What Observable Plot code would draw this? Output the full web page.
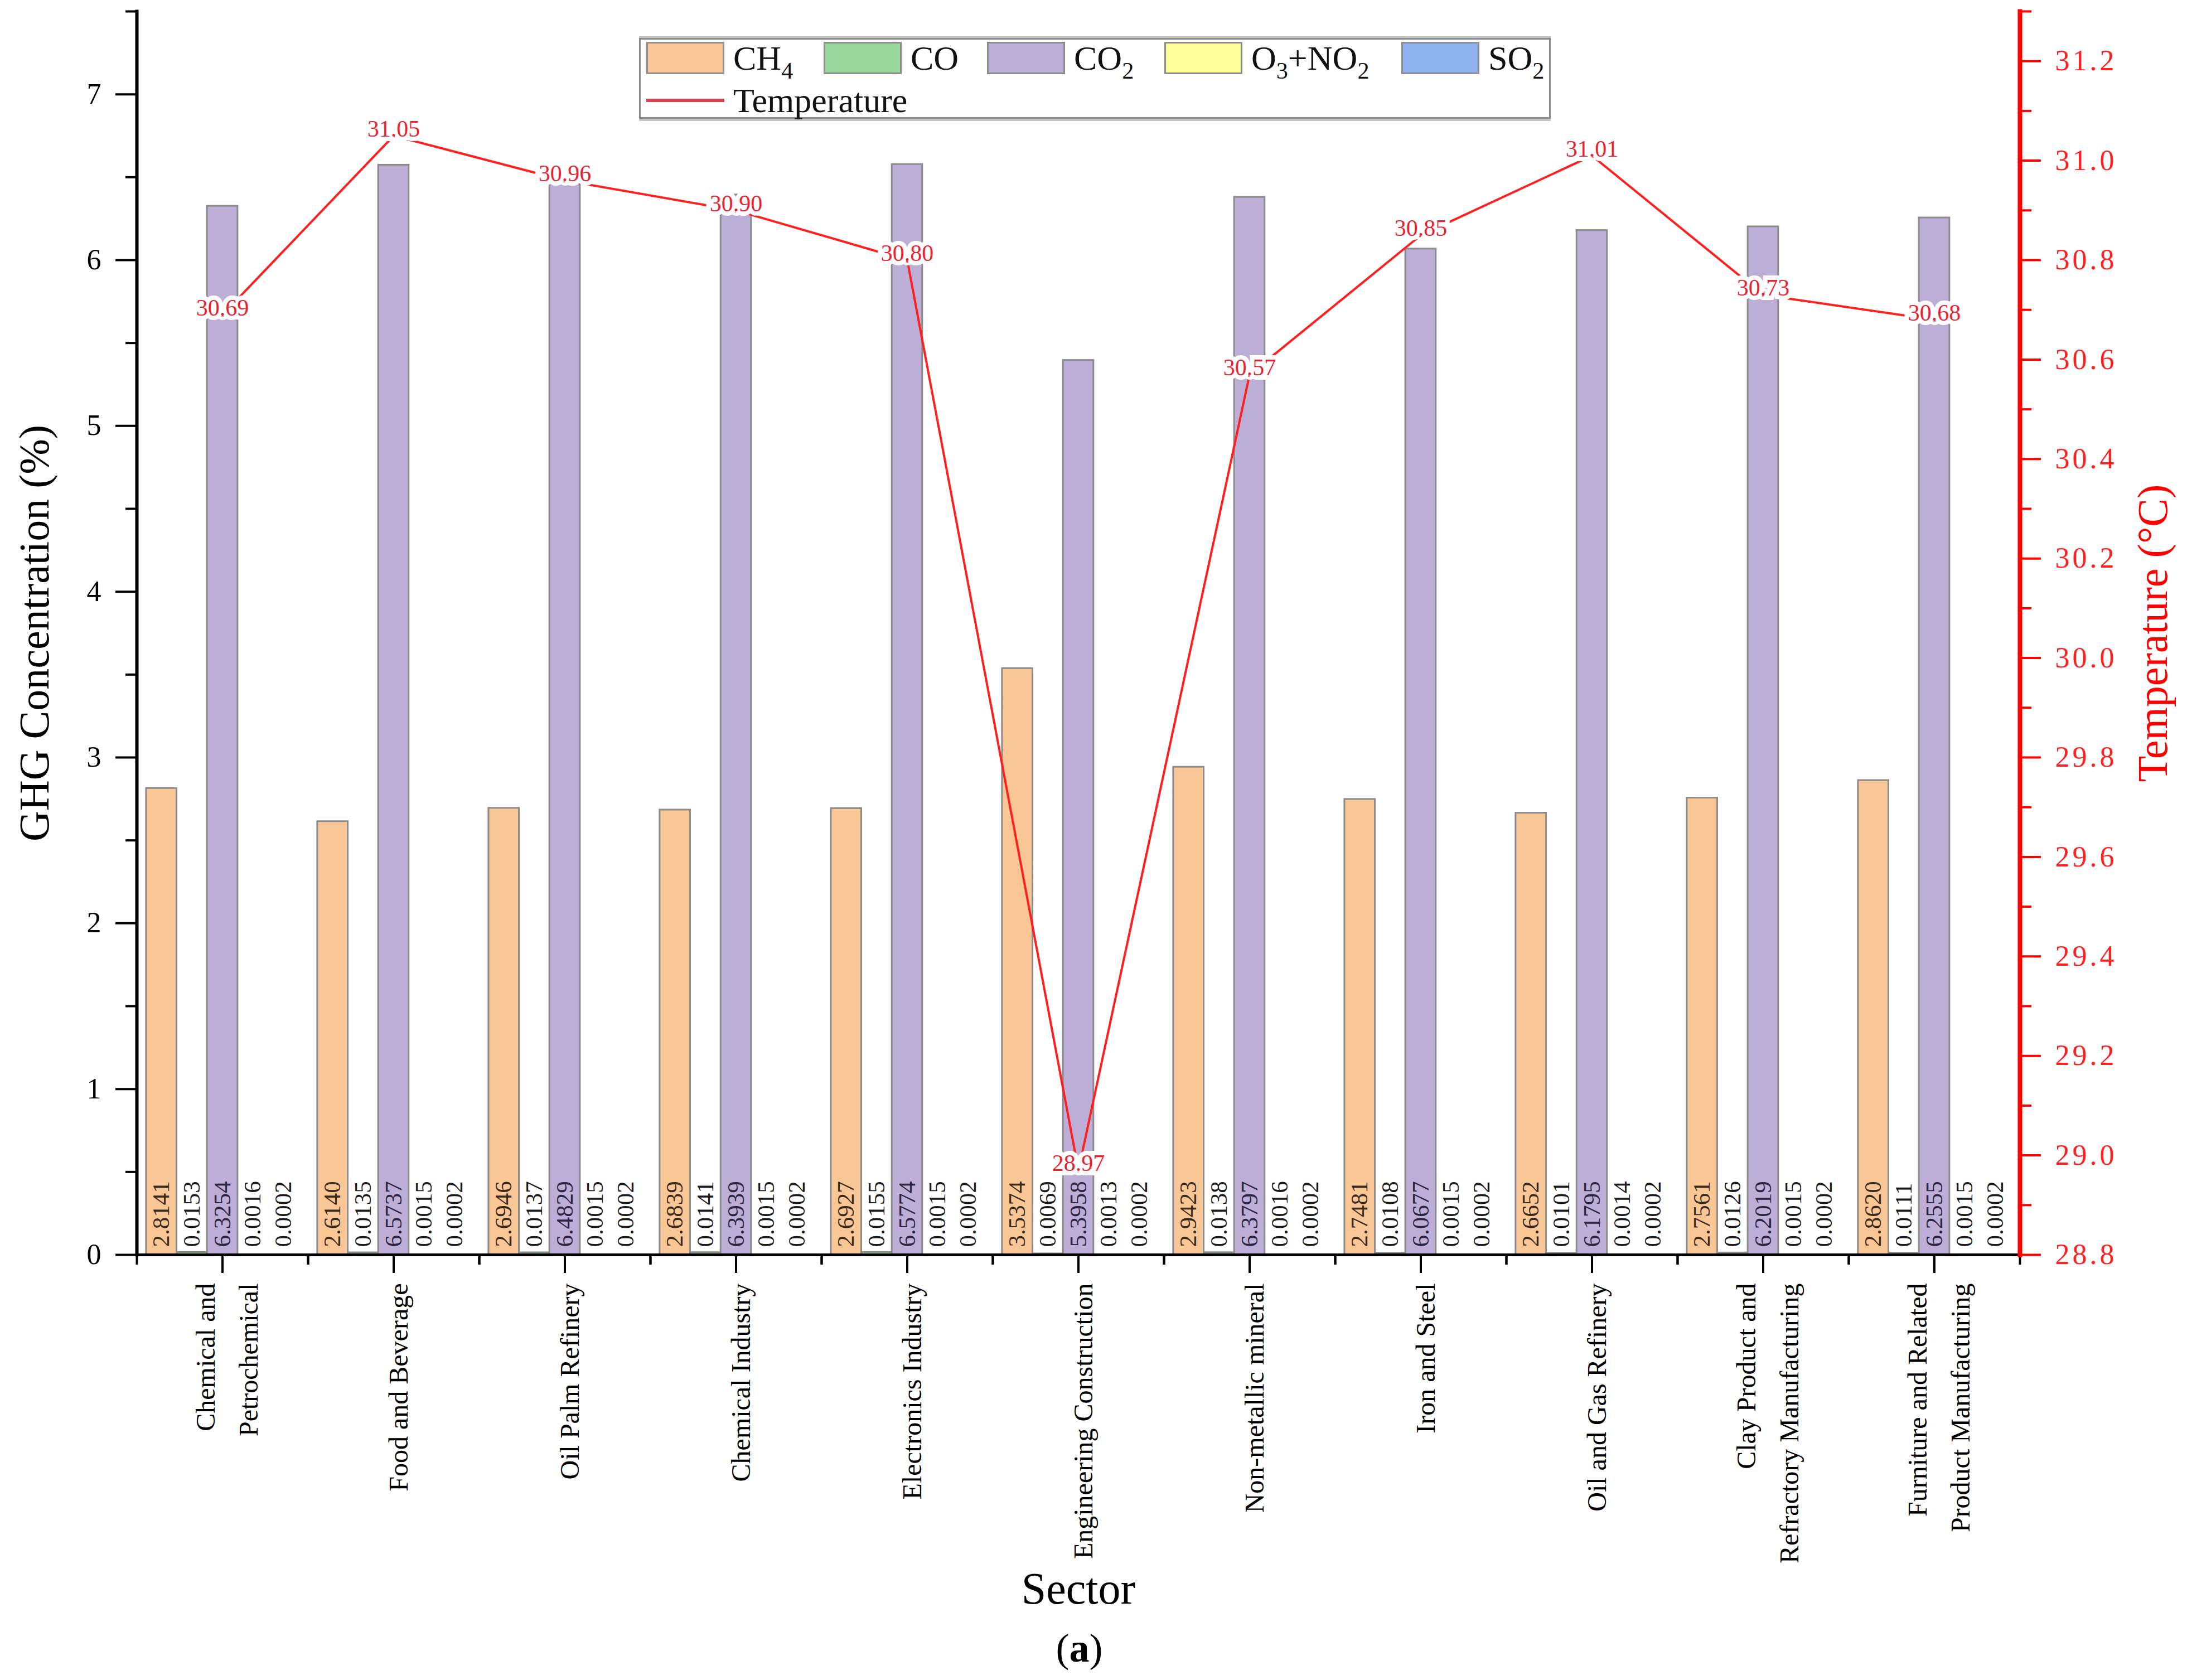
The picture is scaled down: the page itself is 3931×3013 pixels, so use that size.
<!DOCTYPE html>
<html>
<head>
<meta charset="utf-8">
<script src="https://cdn.jsdelivr.net/npm/d3@7"></script>
<script src="https://cdn.jsdelivr.net/npm/@observablehq/plot@0.6"></script>
<style>
  body { margin: 0; background: #fff; }
  #wrap { position: relative; width: 3931px; font-family: "Liberation Serif", "Times New Roman", serif; background: #fff; }
  #legend { position: absolute; left: 1146px; top: 68px; width: 1629px; height: 139px;
            border: 3px solid #8a8a8a; box-shadow: 0 4px 0 #c4c4c4, 0 -3px 0 #c4c4c4; background: #fff; }
  .item { position: absolute; display: flex; align-items: center; font-size: 62px; line-height: 1; color: #111; }
  .sw { width: 134px; height: 52px; border: 3px solid #8c8c8c; margin-right: 16px; }
  .ln { width: 140px; height: 6px; background: #d8434d; margin-right: 16px; }
  sub { font-size: 0.68em; vertical-align: -0.38em; line-height: 0; }
  #caption { width: 3931px; height: 113px; line-height: 113px; text-align: center; font-size: 72px;
             font-family: "Liberation Serif", serif; box-sizing: border-box; padding-right: 60px; }
  g[fill="#ff2020"] text { letter-spacing: 5px; }
</style>
</head>
<body>
<div id="wrap">
  <div id="chart"></div>
  <div id="legend"></div>
  <div id="caption">(<b>a</b>)</div>
</div>
<script>
// ---------- data ----------
const sectors = [
  "Chemical and\nPetrochemical",
  "Food and Beverage",
  "Oil Palm Refinery",
  "Chemical Industry",
  "Electronics Industry",
  "Engineering Construction",
  "Non-metallic mineral",
  "Iron and Steel",
  "Oil and Gas Refinery",
  "Clay Product and\nRefractory Manufacturing",
  "Furniture and Related\nProduct Manufacturing"
];
const gases = ["CH4", "CO", "CO2", "O3+NO2", "SO2"];
const gasColors = ["#f9c796", "#98d69b", "#bcaed6", "#ffff99", "#8fb1ee"];
const ch4   = [2.8141, 2.6140, 2.6946, 2.6839, 2.6927, 3.5374, 2.9423, 2.7481, 2.6652, 2.7561, 2.8620];
const co    = [0.0153, 0.0135, 0.0137, 0.0141, 0.0155, 0.0069, 0.0138, 0.0108, 0.0101, 0.0126, 0.0111];
const co2   = [6.3254, 6.5737, 6.4829, 6.3939, 6.5774, 5.3958, 6.3797, 6.0677, 6.1795, 6.2019, 6.2555];
const o3no2 = [0.0016, 0.0015, 0.0015, 0.0015, 0.0015, 0.0013, 0.0016, 0.0015, 0.0014, 0.0015, 0.0015];
const so2   = [0.0002, 0.0002, 0.0002, 0.0002, 0.0002, 0.0002, 0.0002, 0.0002, 0.0002, 0.0002, 0.0002];
const temperature = [30.69, 31.05, 30.96, 30.90, 30.80, 28.97, 30.57, 30.85, 31.01, 30.73, 30.68];
const leftTicks  = [0, 1, 2, 3, 4, 5, 6, 7];
const leftMinor  = [0.5, 1.5, 2.5, 3.5, 4.5, 5.5, 6.5, 7.5];
const rightTicks = [28.8, 29.0, 29.2, 29.4, 29.6, 29.8, 30.0, 30.2, 30.4, 30.6, 30.8, 31.0, 31.2];
const rightMinor = [28.9, 29.1, 29.3, 29.5, 29.7, 29.9, 30.1, 30.3, 30.5, 30.7, 30.9, 31.1, 31.3];
const series = [ch4, co, co2, o3no2, so2];

// ---------- layout ----------
const W = 3931, H = 2900;
const mL = 245, mR = 309, mT = 20, mB = 650;
const bw = (W - mL - mR) / sectors.length;
const pad = 0.055, slot = 0.178;
const yMax = 7.5, tMin = 28.8, tMax = 31.3;
const toY = t => (t - tMin) / (tMax - tMin) * yMax;
const fromY = y => tMin + y / yMax * (tMax - tMin);

const rows = gases.flatMap((g, k) => sectors.map((s, i) => ({sector: s, gas: g, k, value: series[k][i]})));
const temps = sectors.map((s, i) => ({sector: s, temp: temperature[i]}));

const marks = [];
gases.forEach((g, k) => {
  marks.push(Plot.barY(rows.filter(r => r.k === k), {
    x: "sector", y: "value", fill: "gas", stroke: "#8b8b8b", strokeWidth: 3,
    insetLeft: bw * (pad + k * slot), insetRight: bw * (1 - pad - (k + 1) * slot)
  }));
});
gases.forEach((g, k) => {
  marks.push(Plot.text(rows.filter(r => r.k === k), {
    x: "sector", y: 0, text: d => d.value.toFixed(4), rotate: -90, textAnchor: "start",
    dx: bw * (pad + (k + 0.5) * slot - 0.5), dy: -14, fontSize: 43,
    fill: k === 0 ? "#3a2818" : k === 2 ? "#2a2440" : "#1a1a1a"
  }));
});
marks.push(Plot.line(temps, {x: "sector", y: d => toY(d.temp), stroke: "#ff1f1f", strokeWidth: 4}));
marks.push(Plot.text(temps, {
  x: "sector", y: d => toY(d.temp), text: d => d.temp.toFixed(2), dy: -12,
  fill: "#e8232f", stroke: "white", strokeWidth: 16, strokeLinejoin: "miter", fontSize: 42
}));

// axes
marks.push(Plot.axisY(leftTicks, {anchor: "left", tickSize: 38, tickPadding: 26, strokeWidth: 4, fontSize: 52, label: null, tickFormat: d3.format("d")}));
marks.push(Plot.axisY(leftMinor, {anchor: "left", tickSize: 20, strokeWidth: 4, fill: "none", tickFormat: () => "", label: null}));
marks.push(Plot.axisY(rightTicks.map(toY), {anchor: "right", tickSize: 37, tickPadding: 26, strokeWidth: 4, fontSize: 52,
  stroke: "#ff0000", fill: "#ff2020", label: null, tickFormat: v => fromY(v).toFixed(1)}));
marks.push(Plot.axisY(rightMinor.map(toY), {anchor: "right", tickSize: 20, strokeWidth: 4, stroke: "#ff0000", fill: "none", tickFormat: () => "", label: null}));
marks.push(Plot.axisX({anchor: "bottom", tickSize: 33, tickPadding: 18, tickRotate: -90, strokeWidth: 4, fontSize: 48, lineHeight: 1.6, label: null}));
marks.push(Plot.axisX({anchor: "bottom", tickSize: 18, strokeWidth: 4, dx: -bw / 2, fill: "none", tickFormat: () => "", label: null}));
marks.push(Plot.axisX({anchor: "bottom", tickSize: 18, strokeWidth: 4, dx: bw / 2, fill: "none", tickFormat: () => "", label: null}));
marks.push(Plot.frame({anchor: "left", stroke: "black", strokeWidth: 6}));
marks.push(Plot.frame({anchor: "bottom", stroke: "black", strokeWidth: 5}));
marks.push(Plot.frame({anchor: "right", stroke: "#ff0000", strokeWidth: 8}));

// axis titles
marks.push(Plot.text(["GHG Concentration (%)"], {frameAnchor: "left", textAnchor: "middle", rotate: -90, dx: -183, fontSize: 76, fill: "black"}));
marks.push(Plot.text(["Temperature (°C)"], {frameAnchor: "right", textAnchor: "middle", rotate: -90, dx: 239, fontSize: 76, fill: "#ff0000"}));
marks.push(Plot.text(["Sector"], {frameAnchor: "bottom", textAnchor: "middle", dy: 625, fontSize: 80, fill: "black"}));

const chart = Plot.plot({
  width: W, height: H,
  marginLeft: mL, marginRight: mR, marginTop: mT, marginBottom: mB,
  x: {type: "band", domain: sectors, padding: 0},
  y: {domain: [0, yMax]},
  color: {domain: gases, range: gasColors},
  style: {fontFamily: "Liberation Serif, Times New Roman, serif", background: "white", overflow: "visible", color: "black"},
  marks
});
document.getElementById("chart").append(chart);

// ---------- legend ----------
const sub = s => s.replace(/(\d)/g, "<sub>$1</sub>");
const legendLeft = [10, 328, 621, 939, 1364];
const legend = document.getElementById("legend");
gases.forEach((g, k) => {
  const it = document.createElement("div");
  it.className = "item";
  it.style.left = legendLeft[k] + "px";
  it.style.top = "2px";
  it.innerHTML = `<div class="sw" style="background:${gasColors[k]}"></div><span>${sub(g)}</span>`;
  legend.append(it);
});
const t = document.createElement("div");
t.className = "item";
t.style.left = legendLeft[0] + "px";
t.style.top = "78px";
t.innerHTML = `<div class="ln"></div><span>Temperature</span>`;
legend.append(t);
</script>
</body>
</html>
